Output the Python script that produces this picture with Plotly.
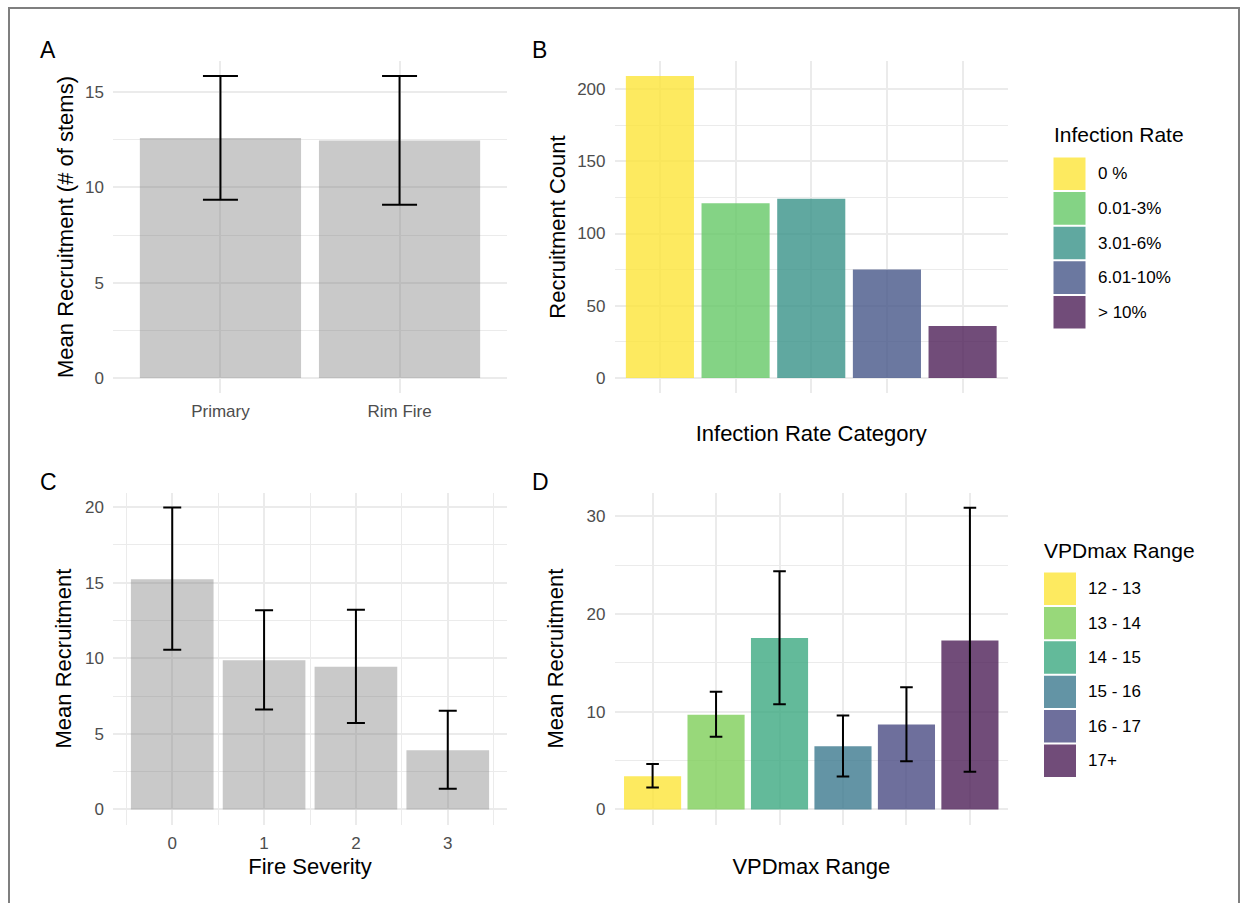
import plotly.graph_objects as go

# ---------------- data ----------------
a_cats = ["Primary", "Rim Fire"]
a_mean = [12.6, 12.47]
a_low = [9.35, 9.09]
a_high = [15.85, 15.85]

b_cats = ["0 %", "0.01-3%", "3.01-6%", "6.01-10%", "> 10%"]
b_vals = [209, 121, 124, 75, 36]

c_x = [0, 1, 2, 3]
c_mean = [15.23, 9.87, 9.43, 3.92]
c_low = [10.56, 6.61, 5.71, 1.36]
c_high = [19.97, 13.18, 13.2, 6.52]

d_cats = ["12 - 13", "13 - 14", "14 - 15", "15 - 16", "16 - 17", "17+"]
d_mean = [3.40, 9.69, 17.55, 6.46, 8.71, 17.31]
d_low = [2.24, 7.45, 10.78, 3.37, 4.93, 3.85]
d_high = [4.66, 12.04, 24.39, 9.63, 12.52, 30.89]

b_colors = ["rgba(253,229,56,0.8)", "rgba(101,200,103,0.8)", "rgba(56,146,136,0.8)",
            "rgba(70,86,136,0.8)", "rgba(78,31,88,0.8)"]
d_colors = ["rgba(253,229,56,0.8)", "rgba(126,206,89,0.8)", "rgba(60,169,129,0.8)",
            "rgba(60,121,143,0.8)", "rgba(74,75,131,0.8)", "rgba(78,31,88,0.8)"]
gray_bar = "rgba(127,127,127,0.42)"

W, H = 1243, 903
FONT = "Liberation Sans, Arial, Helvetica, sans-serif"


def px(x):
    return x / W


def py(y):
    return 1 - y / H


fig = go.Figure()

err_style = dict(type="data", symmetric=False, color="black", thickness=2)

# Panel A
fig.add_trace(go.Bar(
    x=a_cats, y=a_mean, marker=dict(color=gray_bar, line=dict(width=0)),
    error_y=dict(array=[h - m for h, m in zip(a_high, a_mean)],
                 arrayminus=[m - l for m, l in zip(a_mean, a_low)], width=17.5, **err_style),
    xaxis="x", yaxis="y", showlegend=False))

# Panel B
fig.add_trace(go.Bar(
    x=b_cats, y=b_vals, marker=dict(color=b_colors, line=dict(width=0)),
    xaxis="x2", yaxis="y2", showlegend=False))

# Panel C
fig.add_trace(go.Bar(
    x=c_x, y=c_mean, width=0.9, marker=dict(color=gray_bar, line=dict(width=0)),
    error_y=dict(array=[h - m for h, m in zip(c_high, c_mean)],
                 arrayminus=[m - l for m, l in zip(c_mean, c_low)], width=9, **err_style),
    xaxis="x3", yaxis="y3", showlegend=False))

# Panel D
fig.add_trace(go.Bar(
    x=d_cats, y=d_mean, marker=dict(color=d_colors, line=dict(width=0)),
    error_y=dict(array=[h - m for h, m in zip(d_high, d_mean)],
                 arrayminus=[m - l for m, l in zip(d_mean, d_low)], width=6.3, **err_style),
    xaxis="x4", yaxis="y4", showlegend=False))

GRID = "#EBEBEB"
tickfont = dict(family=FONT, size=17, color="#4D4D4D")
titlefont = dict(family=FONT, size=22, color="black")


def yax(domain, rng, dtick, title, anchor, standoff):
    return dict(domain=domain, range=rng, dtick=dtick, tick0=0, showgrid=True,
                gridcolor=GRID, gridwidth=1.5, zeroline=False, showline=False,
                ticks="", tickfont=tickfont, ticklabelstandoff=8,
                minor=dict(dtick=dtick / 2, tick0=0, showgrid=True, gridcolor=GRID, gridwidth=0.8),
                title=dict(text=title, font=titlefont, standoff=standoff), anchor=anchor,
                fixedrange=True)


def xax(domain, rng, title, anchor, standoff, showlabels=True, **kw):
    d = dict(domain=domain, range=rng, showgrid=True, gridcolor=GRID, gridwidth=1.5,
             zeroline=False, showline=False, ticks="", tickfont=tickfont,
             showticklabels=showlabels, ticklabelstandoff=6,
             title=dict(text=title, font=titlefont, standoff=standoff), anchor=anchor,
             fixedrange=True)
    d.update(kw)
    return d


left_x = [px(113), px(507)]
right_x = [px(614.5), px(1008)]
top_y = [py(393), py(61)]
bot_y = [py(824.5), py(492.7)]

fig.update_layout(
    width=W, height=H, autosize=False,
    margin=dict(l=0, r=0, t=0, b=0),
    paper_bgcolor="white", plot_bgcolor="white",
    bargap=0.1,
    font=dict(family=FONT),
    xaxis=xax(left_x, [-0.6, 1.6], "", "y", 10, type="category"),
    yaxis=yax(top_y, [-0.79, 16.64], 5, "Mean Recruitment (# of stems)", "x", 5),
    xaxis2=xax(right_x, [-0.6, 4.6], "Infection Rate Category", "y2", 32, showlabels=False,
               type="category"),
    yaxis2=yax(top_y, [-10.45, 219.45], 50, "Recruitment Count", "x2", 5),
    xaxis3=xax(left_x, [-0.645, 3.645], "Fire Severity", "y3", 7, tickvals=c_x,
               minor=dict(dtick=0.5, tick0=-0.5, showgrid=True, gridcolor=GRID, gridwidth=0.8)),
    yaxis3=yax(bot_y, [-1.0, 20.95], 5, "Mean Recruitment", "x3", 7),
    xaxis4=xax(right_x, [-0.6, 5.6], "VPDmax Range", "y4", 34, showlabels=False, type="category"),
    yaxis4=yax(bot_y, [-1.54, 32.43], 10, "Mean Recruitment", "x4", 16),
)

shapes = []
annotations = []

# outer frame
shapes.append(dict(type="rect", xref="paper", yref="paper", x0=px(9), x1=px(1239),
                   y0=-0.05, y1=py(8), line=dict(color="#7F7F7F", width=2),
                   fillcolor="rgba(0,0,0,0)", layer="above"))

# panel letters
for letter, x, y in [("A", 38, 50), ("B", 530, 50), ("C", 38, 482), ("D", 530, 482)]:
    annotations.append(dict(text=letter, xref="paper", yref="paper", x=px(x), y=py(y),
                            xanchor="left", yanchor="middle", showarrow=False,
                            font=dict(family=FONT, size=23, color="black")))


def legend(title, labels, colors, x_key, y_title, y_top, step, key_w=32):
    annotations.append(dict(text=title, xref="paper", yref="paper", x=px(x_key - 2), y=py(y_title),
                            xanchor="left", yanchor="middle", showarrow=False,
                            font=dict(family=FONT, size=21, color="black")))
    for i, (lab, col) in enumerate(zip(labels, colors)):
        t = y_top + i * step
        shapes.append(dict(type="rect", xref="paper", yref="paper",
                           x0=px(x_key), x1=px(x_key + key_w), y0=py(t + step - 1), y1=py(t + 1),
                           fillcolor=col, line=dict(width=0)))
        annotations.append(dict(text=lab, xref="paper", yref="paper",
                                x=px(x_key + key_w + 10), y=py(t + step / 2),
                                xanchor="left", yanchor="middle", showarrow=False,
                                font=dict(family=FONT, size=17, color="black")))


legend("Infection Rate", b_cats, b_colors, 1053.5, 135, 156.5, 34.6)
legend("VPDmax Range", d_cats, d_colors, 1044, 550, 571.5, 34.4)

fig.update_layout(shapes=shapes, annotations=annotations)

fig.write_html("out.html")
